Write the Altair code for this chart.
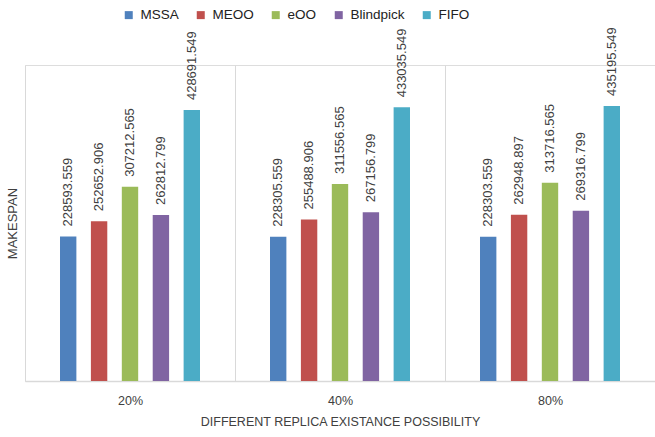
import altair as alt
import pandas as pd

# Replica existence possibility groups and scheduling algorithms
groups = ["20%", "40%", "80%"]
series = ["MSSA", "MEOO", "eOO", "Blindpick", "FIFO"]
colors = ["#4F81BD", "#C0504D", "#9BBB59", "#8064A2", "#4BACC6"]

# Makespan per algorithm, one list per group
makespan_20 = [228593.559, 252652.906, 307212.565, 262812.799, 428691.549]
makespan_40 = [228305.559, 255488.906, 311556.565, 267156.799, 433035.549]
makespan_80 = [228303.559, 262948.897, 313716.565, 269316.799, 435195.549]

rows = []
for g, vals in zip(groups, [makespan_20, makespan_40, makespan_80]):
    for s, v in zip(series, vals):
        rows.append({"group": g, "algo": s, "makespan": v})
df = pd.DataFrame(rows)

FONT = "Liberation Sans"
TXT = "#404040"

x = alt.X(
    "group:N",
    sort=groups,
    scale=alt.Scale(paddingInner=0, paddingOuter=0),
    axis=alt.Axis(
        title="DIFFERENT REPLICA EXISTANCE POSSIBILITY",
        titleFont=FONT,
        titleFontSize=12.5,
        titleFontWeight="normal",
        titleColor=TXT,
        titlePadding=9,
        labelFont=FONT,
        labelFontSize=12.5,
        labelColor=TXT,
        labelPadding=13,
        labelAngle=0,
        ticks=False,
        tickBand="extent",
        grid=True,
        gridColor="#d9d9d9",
        gridWidth=1,
        domainColor="#d9d9d9",
        domainWidth=1.5,
    ),
)
# bars sit in the middle part of each group band
xoff = alt.XOffset(
    "algo:N",
    sort=series,
    scale=alt.Scale(range=[35, 175], paddingInner=0.47, paddingOuter=0),
)
y = alt.Y(
    "makespan:Q",
    scale=alt.Scale(domain=[0, 500000], nice=False),
    axis=alt.Axis(
        title="MAKESPAN",
        titleFont=FONT,
        titleFontSize=13,
        titleFontWeight="normal",
        titleColor=TXT,
        titlePadding=6,
        labels=False,
        ticks=False,
        domain=False,
        grid=False,
    ),
)

bars = alt.Chart(df).mark_bar().encode(
    x=x,
    xOffset=xoff,
    y=y,
    color=alt.Color(
        "algo:N",
        sort=series,
        scale=alt.Scale(domain=series, range=colors),
        legend=alt.Legend(
            title=None,
            orient="none",
            direction="horizontal",
            legendX=97,
            legendY=-57,
            symbolType="square",
            symbolSize=64,
            symbolStrokeWidth=0,
            labelFont=FONT,
            labelFontSize=13.5,
            labelColor="#222222",
            labelOffset=5,
            columnPadding=15,
            padding=0,
        ),
    ),
)

labels = alt.Chart(df).mark_text(
    angle=270,
    align="left",
    baseline="middle",
    dx=10,
    font=FONT,
    fontSize=13,
    color=TXT,
).encode(
    x=alt.X("group:N", sort=groups),
    xOffset=alt.XOffset("algo:N", sort=series),
    y=alt.Y("makespan:Q"),
    text=alt.Text("makespan:Q", format=".3f"),
)

chart = (
    alt.layer(bars, labels)
    .properties(
        width=630,
        height=316,
        autosize=alt.AutoSizeParams(type="none"),
        padding={"left": 25, "top": 65, "right": 0, "bottom": 56},
    )
    .configure_view(stroke=None)
    .configure(background="white")
)

chart.save("out.html", embed_options={"renderer": "svg", "actions": False})
